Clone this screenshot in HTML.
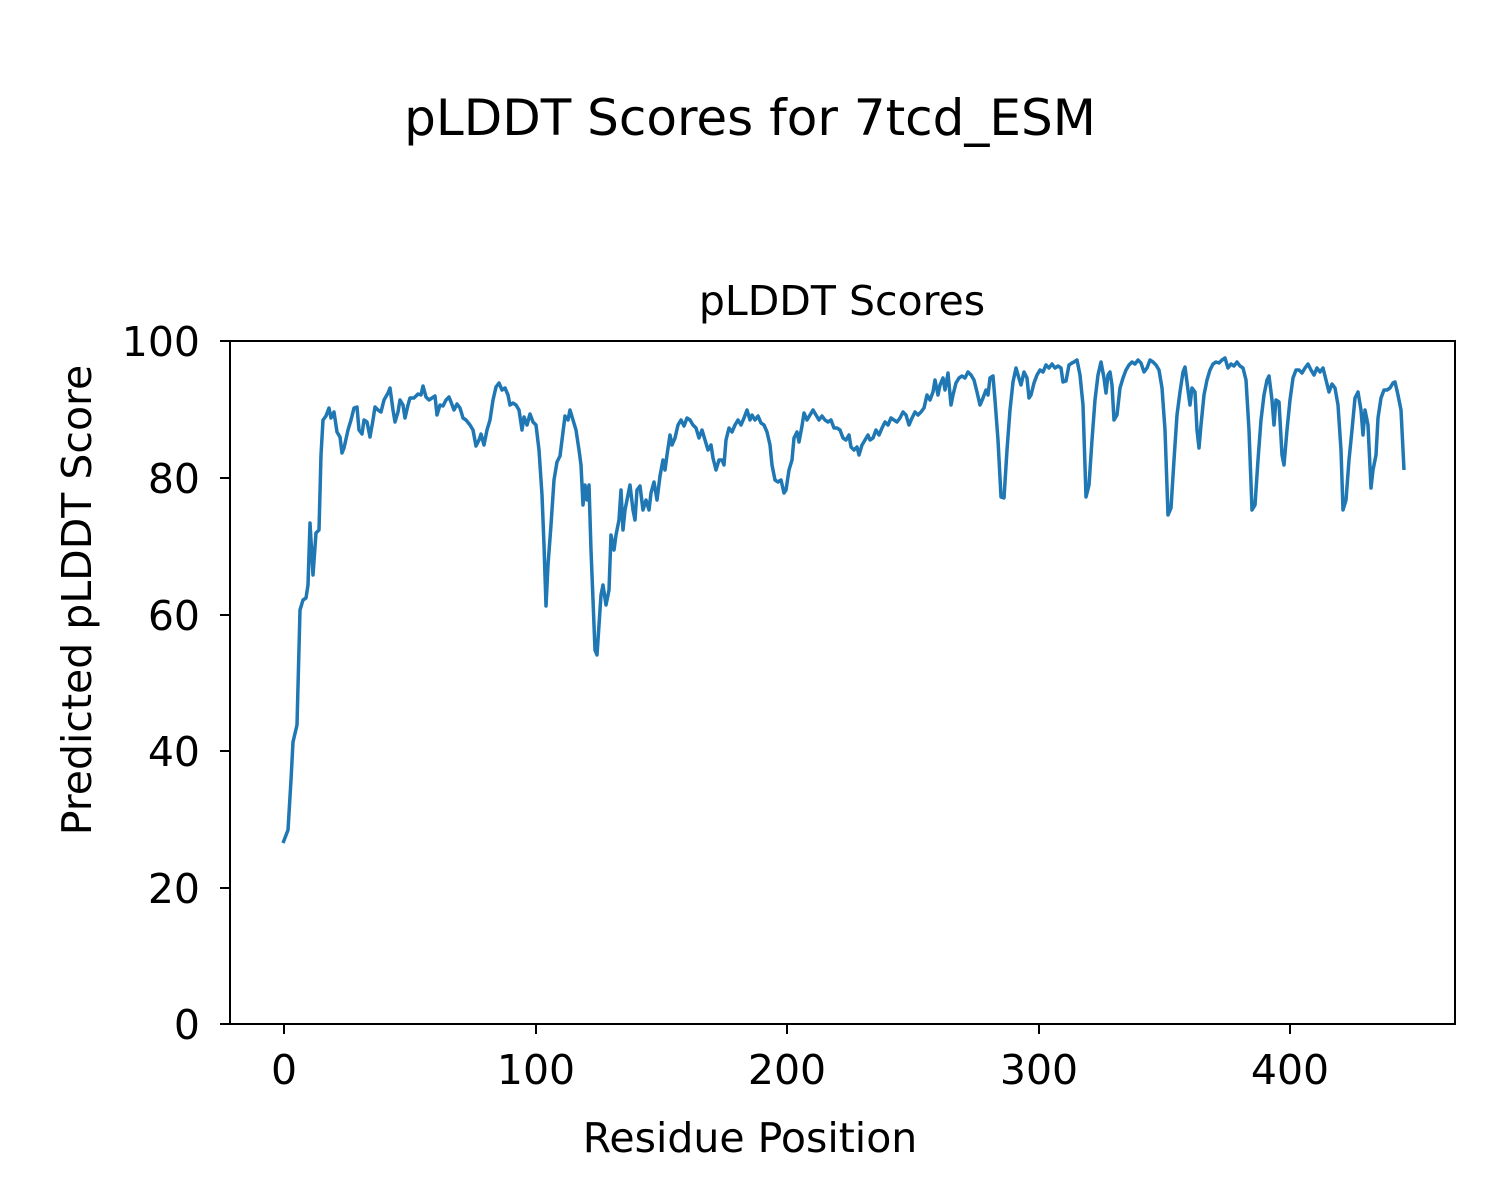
<!DOCTYPE html>
<html><head><meta charset="utf-8"><style>
html,body{margin:0;padding:0;background:#fff;}
svg{display:block;font-family:"DejaVu Sans","Liberation Sans",sans-serif;}
</style></head><body>
<svg width="1500" height="1200" viewBox="0 0 1500 1200" xmlns="http://www.w3.org/2000/svg">
<rect width="1500" height="1200" fill="#fff"/>
<text x="750" y="135" font-size="50" text-anchor="middle">pLDDT Scores for 7tcd_ESM</text>
<text x="842" y="315" font-size="41" text-anchor="middle">pLDDT Scores</text>
<polyline fill="none" stroke="#1f77b4" stroke-width="3.5" stroke-linejoin="round" points="283,843 288,830 291,780 293,742 297,725 300,610 303,600 306,598 308,585 310,523 313,575 316,533 319,530 321,455 323,420 326,416 329,408 331,418 334,412 337,432 340,437 342,453 344,448 348,430 351,420 354,408 357,407 359,430 362,434 364,420 367,422 370,437 373,420 375,407 378,410 381,412 384,400 388,393 390,388 393,410 395,422 398,412 400,400 403,405 405,418 408,405 410,398 414,398 418,394 421,395 423,386 426,397 429,400 432,398 435,396 437,415 440,405 443,406 446,400 449,397 451,402 454,410 457,404 460,408 463,418 466,420 470,425 473,430 476,446 479,440 481,434 484,445 487,430 490,420 493,400 496,387 499,383 502,390 505,388 508,395 510,405 513,403 516,405 519,410 522,430 524,417 527,425 530,414 533,422 536,425 539,450 542,495 544,545 546,606 548,565 551,525 554,480 557,462 560,456 562,440 565,416 568,420 570,410 573,420 576,430 579,450 581,465 583,505 585,485 587,500 589,485 591,550 593,600 595,650 597,655 599,625 601,595 603,585 606,605 609,590 611,535 614,550 616,535 619,520 621,490 623,530 625,510 628,495 630,485 633,510 635,520 637,490 640,486 643,510 646,500 649,510 651,493 654,482 657,500 660,476 663,460 665,470 667,455 670,435 672,445 675,438 678,425 681,420 684,426 687,418 690,420 693,425 696,428 699,438 702,430 705,440 708,450 711,445 713,458 716,470 719,460 722,460 724,465 726,440 729,428 732,432 735,425 738,420 741,425 744,418 747,410 750,420 752,415 755,420 758,416 761,423 764,425 767,432 770,445 772,465 775,480 778,482 781,480 784,493 786,490 789,470 792,460 794,438 797,432 799,442 802,426 804,413 807,420 810,415 813,410 816,415 819,420 822,416 825,420 828,422 831,420 834,428 837,428 840,430 843,438 846,440 849,435 851,447 854,450 857,447 859,455 862,445 865,440 868,435 870,440 873,438 876,430 879,435 882,428 885,422 888,425 891,418 894,420 897,422 900,418 903,412 906,415 909,425 912,418 915,412 918,415 921,412 924,408 927,395 930,400 933,392 935,380 938,395 940,385 943,378 945,390 948,373 951,405 953,395 956,383 959,378 962,376 965,378 968,372 971,375 974,380 977,392 980,405 983,398 986,390 988,395 990,378 993,376 995,400 998,440 1001,497 1004,498 1007,450 1010,410 1013,382 1016,368 1018,375 1021,385 1024,372 1027,378 1029,398 1031,395 1034,383 1037,375 1040,370 1043,372 1046,365 1049,368 1052,364 1055,368 1058,366 1061,368 1063,382 1066,381 1069,365 1072,363 1074,362 1077,360 1080,375 1083,405 1086,497 1089,485 1092,440 1095,400 1098,375 1101,362 1104,378 1106,393 1108,375 1110,372 1112,385 1114,420 1117,415 1120,388 1123,378 1126,370 1129,365 1132,362 1135,364 1138,360 1141,363 1144,372 1147,368 1150,360 1153,362 1156,365 1159,370 1162,388 1165,430 1168,515 1171,508 1174,460 1177,415 1180,392 1183,372 1185,367 1188,390 1190,405 1192,388 1195,392 1197,430 1199,448 1201,425 1204,395 1207,380 1210,370 1213,364 1216,362 1219,363 1222,360 1225,358 1228,368 1231,364 1234,366 1237,362 1240,366 1243,368 1246,380 1249,430 1252,510 1255,505 1258,460 1261,420 1264,395 1267,380 1269,376 1272,400 1274,425 1276,400 1279,402 1282,455 1284,465 1287,430 1290,400 1293,378 1296,370 1299,370 1302,373 1305,368 1308,364 1311,370 1314,375 1317,368 1320,372 1323,368 1326,380 1329,392 1332,384 1335,388 1338,405 1341,450 1343,510 1346,500 1349,460 1352,430 1355,398 1358,392 1361,410 1363,435 1365,410 1368,425 1371,488 1373,470 1376,455 1378,418 1381,398 1384,390 1387,390 1390,388 1393,383 1395,382 1398,395 1401,410 1404,470"/>
<rect x="230" y="341" width="1225" height="683" fill="none" stroke="#000" stroke-width="2"/>
<g stroke="#000" stroke-width="2">
<line x1="220" y1="341" x2="230" y2="341"/><line x1="220" y1="478" x2="230" y2="478"/><line x1="220" y1="615" x2="230" y2="615"/><line x1="220" y1="751" x2="230" y2="751"/><line x1="220" y1="888" x2="230" y2="888"/><line x1="220" y1="1024" x2="230" y2="1024"/>
<line x1="284" y1="1024" x2="284" y2="1034"/><line x1="536" y1="1024" x2="536" y2="1034"/><line x1="787" y1="1024" x2="787" y2="1034"/><line x1="1039" y1="1024" x2="1039" y2="1034"/><line x1="1290" y1="1024" x2="1290" y2="1034"/>
</g>
<g font-size="41" text-anchor="end">
<text x="200" y="356">100</text><text x="200" y="493">80</text><text x="200" y="630">60</text><text x="200" y="766">40</text><text x="200" y="903">20</text><text x="200" y="1039">0</text>
</g>
<g font-size="41" text-anchor="middle">
<text x="284" y="1084">0</text><text x="536" y="1084">100</text><text x="787" y="1084">200</text><text x="1039" y="1084">300</text><text x="1290" y="1084">400</text>
<text x="750" y="1152">Residue Position</text>
<text x="0" y="0" transform="translate(91,600) rotate(-90)">Predicted pLDDT Score</text>
</g>
</svg>
</body></html>
